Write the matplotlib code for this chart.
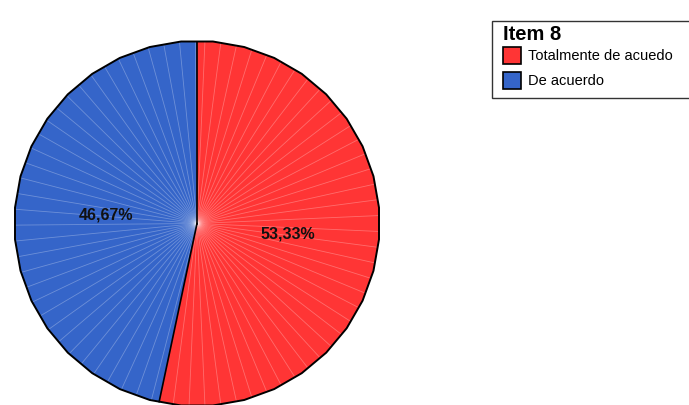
import numpy as np
import matplotlib
matplotlib.use("Agg")
import matplotlib.pyplot as plt
from matplotlib.patches import Polygon, Rectangle

# ---- data ----
categories = ["Totalmente de acuedo", "De acuerdo"]
values = [53.33, 46.67]
labels = ["53,33%", "46,67%"]
colors = ["#FF3535", "#3565C9"]
legend_title = "Item 8"

plt.rcParams['font.family'] = ['Liberation Sans', 'DejaVu Sans']

W, H = 689, 406
fig = plt.figure(figsize=(W / 100, H / 100), dpi=100)
ax = fig.add_axes([0, 0, 1, 1])
ax.set_xlim(0, W)
ax.set_ylim(H, 0)
ax.axis('off')

cx, cy = 197.0, 224.5
Rin = 182.0
nsides = 36
step = 360.0 / nsides


def rad_at(theta):
    d = ((theta - 90 + step / 2) % step) - step / 2
    return Rin / np.cos(np.radians(d))


def pt(theta, r=None):
    if r is None:
        r = rad_at(theta)
    return cx + r * np.cos(np.radians(theta)), cy - r * np.sin(np.radians(theta))


total = sum(values)
start = 90.0
bounds = []
for val, col, lab in zip(values, colors, labels):
    span = 360.0 * val / total
    end = start - span
    verts = [(cx, cy), pt(start)]
    vk = np.arange(-720, 720, step) + 90 + step / 2
    inner = sorted([a for a in vk if end < a < start], reverse=True)
    verts += [pt(a) for a in inner]
    verts.append(pt(end))
    ax.add_patch(Polygon(verts, closed=True, facecolor=col, edgecolor='none', zorder=1))
    # radial light lines
    for a in np.arange(start - 2.5, end, -5.0):
        x1, y1 = pt(a)
        ax.plot([cx, x1], [cy, y1], color='white', alpha=0.28, lw=0.6, zorder=2,
                solid_capstyle='butt')
    mid = (start + end) / 2
    tx, ty = pt(mid, Rin * 0.5)
    ax.text(tx, ty, lab, ha='center', va='center', fontsize=11.5, fontweight='bold',
            color='#111111', zorder=5)
    bounds.append(start)
    start = end

# outline
outline = [pt(a) for a in np.arange(90 + step / 2, 90 + step / 2 + 360, step)]
ax.add_patch(Polygon(outline, closed=True, facecolor='none', edgecolor='black', lw=1.4, zorder=3))
for b in bounds:
    x1, y1 = pt(b)
    ax.plot([cx, x1], [cy, y1], color='black', lw=1.2, zorder=3)

# legend
ax.add_patch(Rectangle((492, 22), 200, 77, facecolor='white', edgecolor='#333333', lw=1.0, zorder=4))
ax.text(503, 35, legend_title, ha='left', va='center', fontsize=14.5, fontweight='bold',
        color='black', zorder=5)
for i, (cat, col) in enumerate(zip(categories, colors)):
    y0 = 48 + i * 24.5
    ax.add_patch(Rectangle((503, y0), 18, 17, facecolor=col, edgecolor='black', lw=1.2, zorder=5))
    ax.text(528, y0 + 8.5, cat, ha='left', va='center', fontsize=10.5, color='black', zorder=5)

fig.savefig("out.png", dpi=100)
